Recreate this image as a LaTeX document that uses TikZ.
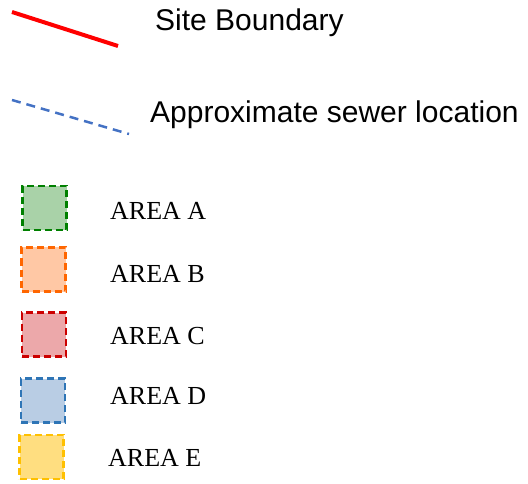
\documentclass[tikz,border=0pt]{standalone}
\usepackage{fontspec}
\setmainfont{Liberation Serif}
\setsansfont{Liberation Sans}
\usepackage{tikz}

\definecolor{bndred}{RGB}{255,0,0}
\definecolor{sewblue}{RGB}{68,114,196}
\definecolor{afill}{RGB}{169,210,168}
\definecolor{aline}{RGB}{0,128,0}
\definecolor{bfill}{RGB}{255,200,165}
\definecolor{bline}{RGB}{255,102,0}
\definecolor{cfill}{RGB}{236,168,170}
\definecolor{cline}{RGB}{204,0,0}
\definecolor{dfill}{RGB}{185,205,228}
\definecolor{dline}{RGB}{46,117,182}
\definecolor{efill}{RGB}{255,222,128}
\definecolor{eline}{RGB}{255,192,0}

\begin{document}
\begin{tikzpicture}[x=1pt, y=-1pt, every node/.style={inner sep=0pt},
    swatch/.style={draw, line width=2.5pt, dash pattern=on 7pt off 4pt, minimum width=44pt, minimum height=44pt},
    keytext/.style={anchor=base west, font=\sffamily\fontsize{30}{36}\selectfont},
    areatext/.style={anchor=base west, font=\fontsize{26}{31}\selectfont}]

\useasboundingbox (0,0) rectangle (528,484);

% Line key
\coordinate (bnd1) at (12,12);
\coordinate (bnd2) at (118,46);
\draw[bndred, line width=4pt] (bnd1) -- (bnd2);
\node[keytext] (bndtext) at (155,31) {Site Boundary};

\coordinate (sew1) at (12,100);
\coordinate (sew2) at (129,134);
\draw[sewblue, line width=2.5pt, dash pattern=on 9pt off 6pt] (sew1) -- (sew2);
\node[keytext] (sewtext) at (150,123) {Approximate sewer location};

% Area key
\node[swatch, draw=aline, fill=afill] (boxa) at (44.5,208) {};
\node[areatext] (texta) at (110,220) {AREA A};

\node[swatch, draw=bline, fill=bfill] (boxb) at (43.5,269.5) {};
\node[areatext] (textb) at (110,282) {AREA B};

\node[swatch, draw=cline, fill=cfill] (boxc) at (44,334.5) {};
\node[areatext] (textc) at (110,344) {AREA C};

\node[swatch, draw=dline, fill=dfill] (boxd) at (43,400.5) {};
\node[areatext] (textd) at (110,404) {AREA D};

\node[swatch, draw=eline, fill=efill] (boxe) at (41.5,457) {};
\node[areatext] (texte) at (108,466) {AREA E};

\end{tikzpicture}
\end{document}
